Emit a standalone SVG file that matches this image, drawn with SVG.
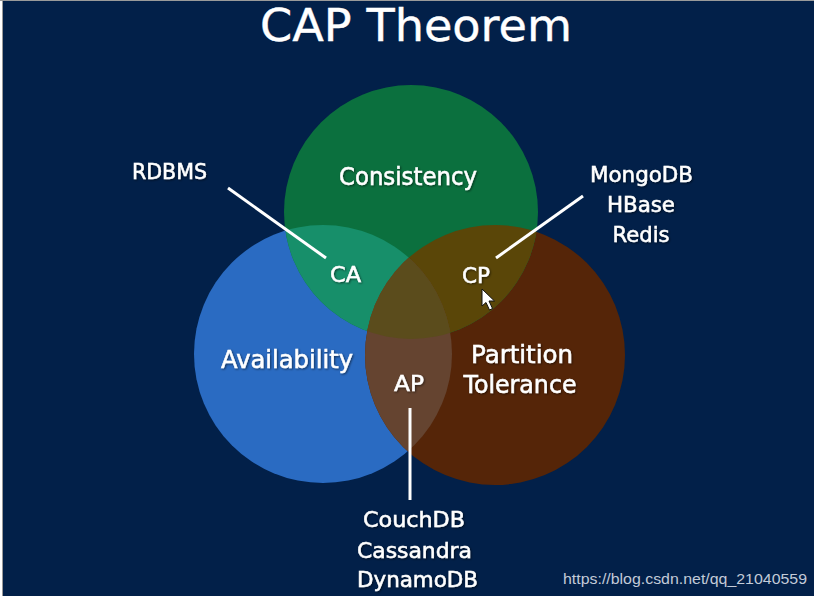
<svg xmlns="http://www.w3.org/2000/svg" width="817" height="598" viewBox="0 0 817 598">
  <defs>
    <style>
      .lbl { font-family: "DejaVu Sans", "Liberation Sans", sans-serif; fill: #ffffff; stroke: #ffffff; stroke-width: 0.5; filter: url(#sh); }
      .conn { stroke: #ffffff; stroke-width: 3; fill: none; stroke-linecap: butt; }
      .wm { font-family: "Liberation Sans", Arial, sans-serif; fill: #c3cbd8; font-size: 15px; }
    </style>
    <filter id="sh" x="-10%" y="-20%" width="120%" height="140%">
      <feDropShadow dx="1" dy="1" stdDeviation="0.8" flood-color="#000000" flood-opacity="0.55"/>
    </filter>
    <clipPath id="cG"><circle cx="411" cy="212" r="127"/></clipPath>
    <clipPath id="cB"><circle cx="323" cy="354" r="129"/></clipPath>
    <clipPath id="cR"><circle cx="495" cy="355" r="130"/></clipPath>
  </defs>

  <rect x="0" y="0" width="817" height="598" fill="#ffffff"/>
  <rect x="2" y="0" width="812" height="596" fill="#022049"/>
  <line x1="2.5" y1="0" x2="2.5" y2="596" stroke="#9a9a9a" stroke-width="1"/>
  <line x1="0" y1="0.5" x2="814" y2="0.5" stroke="#9a9a9a" stroke-width="1"/>

  <text x="416" y="41" text-anchor="middle" font-family="DejaVu Sans, Liberation Sans, sans-serif" font-size="45" fill="#ffffff" stroke="#ffffff" stroke-width="0.4" textLength="312" lengthAdjust="spacingAndGlyphs">CAP Theorem</text>

  <g id="venn">
    <g id="availability">
      <circle cx="323" cy="354" r="129" fill="#2a6bc2"/>
    </g>
    <g id="partition">
      <circle cx="495" cy="355" r="130" fill="#552508"/>
    </g>
    <g id="consistency">
      <circle cx="411" cy="212" r="127" fill="#0b703e"/>
    </g>
    <g id="ca-region" clip-path="url(#cG)">
      <circle cx="323" cy="354" r="129" fill="#178f6a"/>
    </g>
    <g id="cp-region" clip-path="url(#cG)">
      <circle cx="495" cy="355" r="130" fill="#5a4608"/>
    </g>
    <g id="ap-region" clip-path="url(#cB)">
      <circle cx="495" cy="355" r="130" fill="#654430"/>
    </g>
    <g id="center-region" clip-path="url(#cB)">
      <g clip-path="url(#cG)">
        <circle cx="495" cy="355" r="130" fill="#5b4c1c"/>
      </g>
    </g>
  </g>

  <g id="connectors">
    <line class="conn" x1="228" y1="188" x2="326" y2="258"/>
    <line class="conn" x1="583" y1="196" x2="496" y2="258"/>
    <line class="conn" x1="410" y1="408" x2="410" y2="500"/>
  </g>

  <g id="label-consistency"><text class="lbl" x="408" y="185" text-anchor="middle" font-size="24" textLength="138" lengthAdjust="spacingAndGlyphs">Consistency</text></g>
  <g id="label-availability"><text class="lbl" x="287" y="368" text-anchor="middle" font-size="24" textLength="132" lengthAdjust="spacingAndGlyphs">Availability</text></g>
  <g id="label-partition">
    <text class="lbl" x="522" y="363" text-anchor="middle" font-size="24" textLength="102" lengthAdjust="spacingAndGlyphs">Partition</text>
    <text class="lbl" x="520" y="393" text-anchor="middle" font-size="24" textLength="113" lengthAdjust="spacingAndGlyphs">Tolerance</text>
  </g>
  <g id="label-ca"><text class="lbl" x="345.5" y="282" text-anchor="middle" font-size="22" textLength="31" lengthAdjust="spacingAndGlyphs">CA</text></g>
  <g id="label-cp"><text class="lbl" x="476" y="283" text-anchor="middle" font-size="22" textLength="28" lengthAdjust="spacingAndGlyphs">CP</text></g>
  <g id="label-ap"><text class="lbl" x="409" y="391" text-anchor="middle" font-size="22" textLength="30" lengthAdjust="spacingAndGlyphs">AP</text></g>

  <g id="label-rdbms"><text class="lbl" x="169.5" y="179" text-anchor="middle" font-size="22" textLength="75" lengthAdjust="spacingAndGlyphs">RDBMS</text></g>
  <g id="label-cp-dbs">
    <text class="lbl" x="641.5" y="182" text-anchor="middle" font-size="22" textLength="103" lengthAdjust="spacingAndGlyphs">MongoDB</text>
    <text class="lbl" x="641" y="212" text-anchor="middle" font-size="22" textLength="68" lengthAdjust="spacingAndGlyphs">HBase</text>
    <text class="lbl" x="641" y="242" text-anchor="middle" font-size="22" textLength="57" lengthAdjust="spacingAndGlyphs">Redis</text>
  </g>
  <g id="label-ap-dbs">
    <text class="lbl" x="414" y="527" text-anchor="middle" font-size="22" textLength="102" lengthAdjust="spacingAndGlyphs">CouchDB</text>
    <text class="lbl" x="414.5" y="558" text-anchor="middle" font-size="22" textLength="115" lengthAdjust="spacingAndGlyphs">Cassandra</text>
    <text class="lbl" x="417.5" y="587" text-anchor="middle" font-size="22" textLength="121" lengthAdjust="spacingAndGlyphs">DynamoDB</text>
  </g>

  <g id="cursor">
    <polygon points="482,289 482,306 486,302.5 489.5,310 492.5,308.5 489,301 494.5,301" fill="#ffffff" stroke="#111111" stroke-width="1" stroke-linejoin="round"/>
  </g>

  <text class="wm" x="563" y="584" textLength="244" lengthAdjust="spacingAndGlyphs">https://blog.csdn.net/qq_21040559</text>
</svg>
